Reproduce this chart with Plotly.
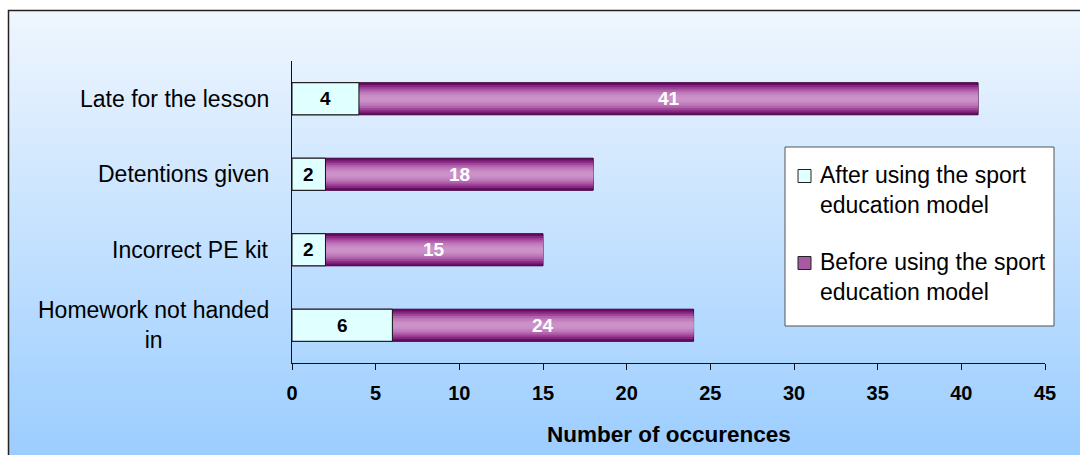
import plotly.graph_objects as go

# Behaviour records, before vs after the sport education model
categories = ["Late for the lesson", "Detentions given", "Incorrect PE kit", "Homework not handed<br>in"]
after_values = [4, 2, 2, 6]
before_values = [41, 18, 15, 24]
series_names = ["After using the sport<br>education model", "Before using the sport<br>education model"]
x_ticks = [0, 5, 10, 15, 20, 25, 30, 35, 40, 45]
x_title = "Number of occurences"

W, H = 1080, 455
L, R, T, B = 292, 35, 61, 92
PW, PH = W - L - R, H - T - B
FONT = "Arial, Liberation Sans"


def px(xp):
    return (xp - L) / PW


def py(yp):
    return (H - B - yp) / PH


def mix(c1, c2, t):
    a = [int(c1[i:i + 2], 16) for i in (1, 3, 5)]
    b = [int(c2[i:i + 2], 16) for i in (1, 3, 5)]
    return "#%02x%02x%02x" % tuple(round(a[k] + (b[k] - a[k]) * t) for k in range(3))


BAR_W = 0.425
AFTER_FILL = "#E0FFFF"
PURPLE_EDGE = "#3A0036"
# purple bar shading: (relative width, colour) from the outer edge inwards
purple_layers = [(1.00, "#6C0C68"), (0.86, "#862881"), (0.72, "#9E4598"),
                 (0.58, "#B062AB"), (0.44, "#BE7ABA"), (0.28, "#C78AC4"), (0.14, "#CB91C8")]

fig = go.Figure()

for i, (frac, col) in enumerate(purple_layers):
    fig.add_trace(go.Bar(
        y=categories, x=before_values, orientation="h", width=BAR_W * frac,
        marker=dict(color=col, line=dict(color=PURPLE_EDGE if i == 0 else col, width=1 if i == 0 else 0)),
        showlegend=False, hoverinfo="skip",
    ))

fig.add_trace(go.Bar(
    y=categories, x=after_values, orientation="h", width=BAR_W,
    marker=dict(color=AFTER_FILL, line=dict(color="#111111", width=1)),
    showlegend=False, hoverinfo="skip",
))

annotations = []
# value labels, centred on the visible part of each segment
for cat, a, b in zip(categories, after_values, before_values):
    annotations.append(dict(x=a / 2, y=cat, xref="x", yref="y", text=f"<b>{a}</b>", showarrow=False,
                            font=dict(family=FONT, size=19, color="black")))
    annotations.append(dict(x=(a + b) / 2, y=cat, xref="x", yref="y", text=f"<b>{b}</b>", showarrow=False,
                            font=dict(family=FONT, size=19, color="white")))

# category labels
for cat in categories:
    annotations.append(dict(x=0, y=cat, xref="paper", yref="y", xanchor="right", xshift=-21,
                            text=cat, showarrow=False, align="center",
                            font=dict(family=FONT, size=23, color="black")))

# axis title
annotations.append(dict(x=0.5, y=py(435), xref="paper", yref="paper", text=f"<b>{x_title}</b>",
                        showarrow=False, yanchor="middle",
                        font=dict(family=FONT, size=22.5, color="black")))

shapes = []
# vertical gradient background inside the frame
top_c, bot_c = "#EFF6FE", "#99CCFF"
y0, y1, step = 10, 470, 4
n = (y1 - y0) // step
for k in range(n):
    ya = y0 + k * step
    shapes.append(dict(type="rect", xref="paper", yref="paper", layer="below",
                       x0=px(8), x1=px(1100), y0=py(ya), y1=py(ya + step + 1),
                       fillcolor=mix(top_c, bot_c, k / (n - 1)), line=dict(width=0)))
# frame
shapes.append(dict(type="rect", xref="paper", yref="paper", layer="below",
                   x0=px(8.5), x1=px(1100), y0=py(10.5), y1=py(480),
                   fillcolor="rgba(0,0,0,0)", line=dict(color="#222222", width=1.5)))

# legend box
shapes.append(dict(type="rect", xref="paper", yref="paper", layer="above",
                   x0=px(785), x1=px(1054), y0=py(326), y1=py(147),
                   fillcolor="white", line=dict(color="#555555", width=1)))
legend_rows = [(176, AFTER_FILL, series_names[0]), (263, "#A65AA2", series_names[1])]
for yc, col, name in legend_rows:
    shapes.append(dict(type="rect", xref="paper", yref="paper", layer="above",
                       x0=px(798), x1=px(811), y0=py(yc + 6.5), y1=py(yc - 6.5),
                       fillcolor=col, line=dict(color="#222222", width=1)))
    annotations.append(dict(x=px(818), y=py(yc - 16), xref="paper", yref="paper", xanchor="left",
                            yanchor="top", text=name, showarrow=False, align="left",
                            font=dict(family=FONT, size=23, color="black")))

fig.update_layout(
    width=W, height=H,
    margin=dict(l=L, r=R, t=T, b=B, pad=0),
    paper_bgcolor="white", plot_bgcolor="rgba(0,0,0,0)",
    barmode="overlay", showlegend=False,
    shapes=shapes, annotations=annotations,
    xaxis=dict(range=[0, 45], tickvals=x_ticks, ticks="outside", ticklen=6, tickcolor="#111111",
               ticklabelstandoff=6,
               showgrid=False, zeroline=False, showline=True, linecolor="#111111", linewidth=1,
               tickfont=dict(family=FONT, size=20, color="black", weight="bold"),
               fixedrange=True),
    yaxis=dict(categoryorder="array", categoryarray=categories, autorange="reversed",
               showticklabels=False, ticks="", showgrid=False, zeroline=False,
               showline=True, linecolor="#111111", linewidth=1, fixedrange=True),
)

fig.write_html("out.html")
